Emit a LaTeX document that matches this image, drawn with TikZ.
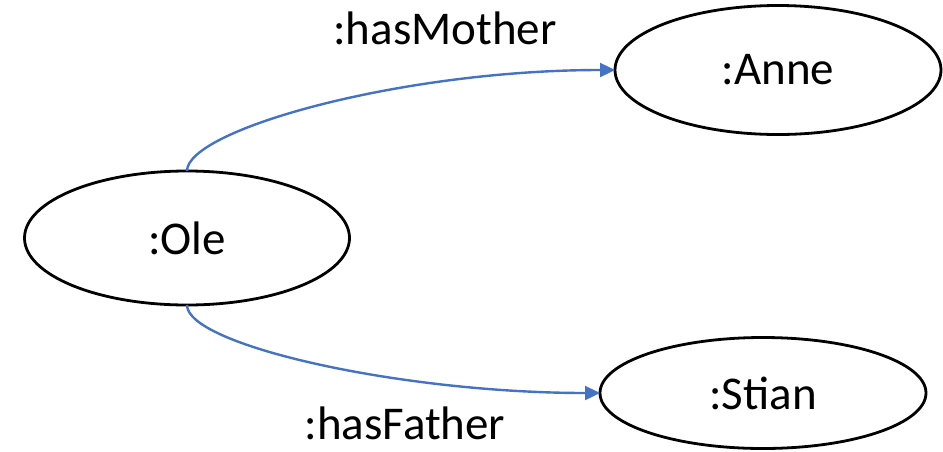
\documentclass[tikz,border=0pt]{standalone}
\usepackage{fontspec}
\setmainfont{Carlito}
\usetikzlibrary{shapes.geometric,arrows.meta}
\definecolor{edgeblue}{HTML}{4472C4}
\begin{document}
\begin{tikzpicture}[x=1pt,y=-1pt,
  ent/.style={ellipse,draw=black,line width=2.8pt,inner sep=0pt,outer sep=0pt,font=\fontsize{47}{55}\selectfont},
  rel/.style={draw=edgeblue,line width=2.4pt,-{Triangle[length=15pt,width=14pt]}},
  lbl/.style={font=\fontsize{47}{55}\selectfont,inner sep=0pt}]
\useasboundingbox (0,0) rectangle (943,451);
\node[ent,minimum width=325pt,minimum height=134pt] (ole) at (187,238) {:Ole};
\node[ent,minimum width=326pt,minimum height=129pt] (anne) at (778,70) {:Anne};
\node[ent,minimum width=326pt,minimum height=111pt] (stian) at (763,393) {:Stian};
\draw[rel] (ole.north) .. controls (187,130) and (400,70) .. (anne.west);
\draw[rel] (ole.south) .. controls (187,345) and (400,393) .. (stian.west);
\node[lbl] (m) at (445,28) {:hasMother};
\node[lbl] (f) at (405,423) {:hasFather};
\end{tikzpicture}
\end{document}
